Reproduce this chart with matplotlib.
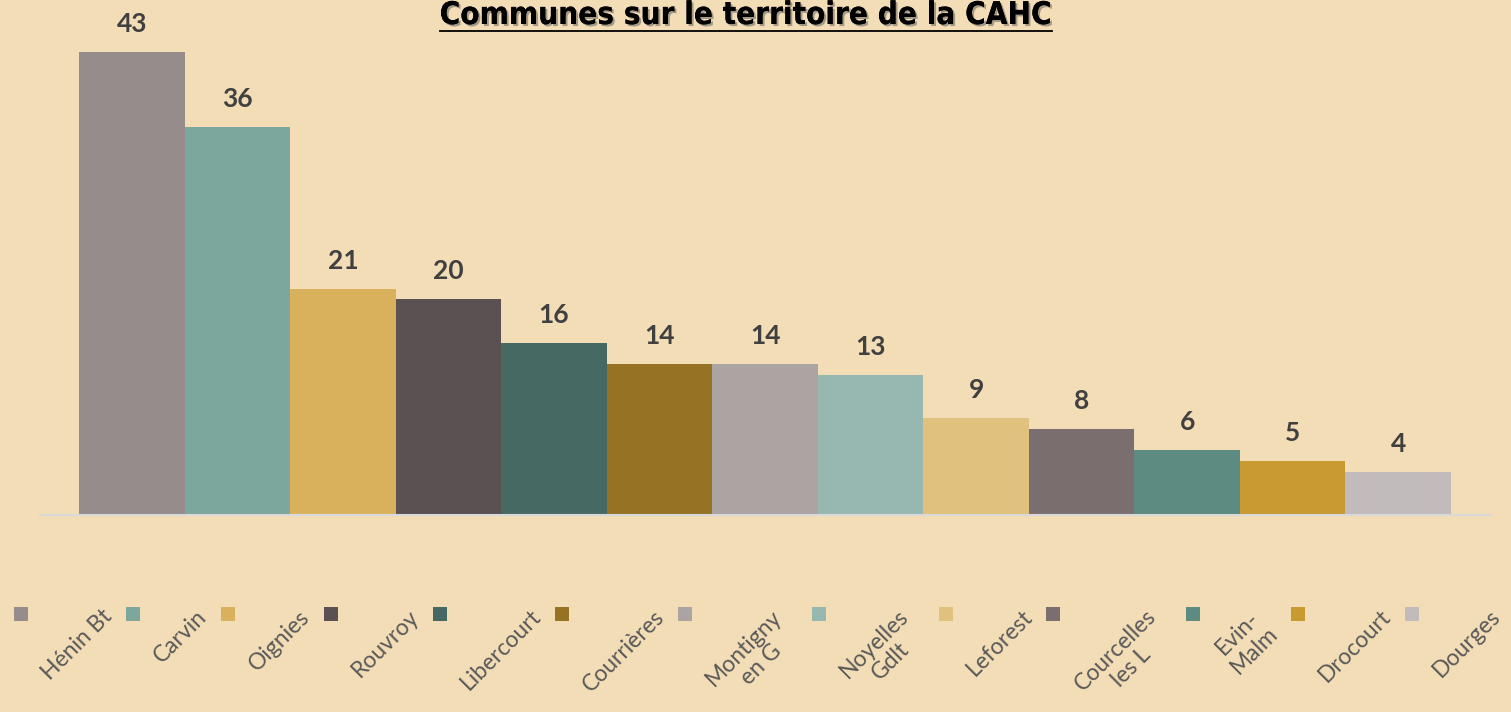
import matplotlib
matplotlib.use("Agg")
import matplotlib.pyplot as plt
import matplotlib.patheffects as pe
from matplotlib.patches import Rectangle
from matplotlib.lines import Line2D

communes = ["Hénin Bt", "Carvin", "Oignies", "Rouvroy", "Libercourt", "Courrières",
            "Montigny\nen G", "Noyelles\nGdlt", "Leforest", "Courcelles\nles L",
            "Evin-\nMalm", "Drocourt", "Dourges"]
valeurs = [43, 36, 21, 20, 16, 14, 14, 13, 9, 8, 6, 5, 4]
couleurs = ["#968C8C", "#7BA79D", "#D9B15D", "#5C5152", "#466963", "#967224", "#ACA3A3",
            "#96B8B1", "#E1C17E", "#7A6E6E", "#5D8B81", "#C89A31", "#C1BBBB"]

fond = "#F3DDB7"
W, H = 1511, 712

fig = plt.figure(figsize=(W / 100, H / 100), dpi=100, facecolor=fond)
ax = fig.add_axes([40 / W, 1 - 515 / H, 1450 / W, 485 / H])
ax.set_facecolor(fond)

x = list(range(len(valeurs)))
ax.bar(x, valeurs, width=1.0, color=couleurs)
ax.set_xlim(-0.87, len(valeurs) - 1 + 0.87)
ax.set_ylim(0, 45)
for s in ["top", "left", "right"]:
    ax.spines[s].set_visible(False)
ax.spines["bottom"].set_color("#D9D9D9")
ax.spines["bottom"].set_linewidth(1.5)
ax.set_xticks([])
ax.set_yticks([])

# etiquettes de valeurs
for i, v in zip(x, valeurs):
    ax.annotate(str(v), (i, v), xytext=(0, 28), textcoords="offset pixels",
                ha="center", va="center", fontsize=19, fontweight="bold",
                color="#404040", family="Lato")

# titre souligne avec ombre
titre = fig.text(746 / W, 1 - 1 / H, "Communes sur le territoire de la CAHC",
                 ha="center", va="top", fontsize=22.5, fontweight="bold",
                 fontstretch="condensed", family="DejaVu Sans", color="black",
                 path_effects=[pe.withSimplePatchShadow(offset=(1.5, -1.5),
                                                        shadow_rgbFace="#555555", alpha=0.5),
                               pe.Normal()])

fig.canvas.draw()
renderer = fig.canvas.get_renderer()
bb = titre.get_window_extent(renderer)
fig.add_artist(Line2D([bb.x0 / W, bb.x1 / W], [(bb.y0 - 1) / H, (bb.y0 - 1) / H],
                      transform=fig.transFigure, color="black", lw=1.3))

# legende manuelle, textes inclines
style = dict(fontsize=16.5, color="#595959", family="Lato")
pos = 14
for nom, c in zip(communes, couleurs):
    fig.add_artist(Rectangle((pos / W, 1 - 621 / H), 14 / W, 14 / H,
                             transform=fig.transFigure, color=c, lw=0))
    # largeur de la ligne la plus longue, une fois inclinee
    w1, h1 = 0, 0
    for ligne in nom.split("\n"):
        tmp = fig.text(0, 0, ligne, rotation=45, **style)
        w1 = max(w1, tmp.get_window_extent(renderer).width)
        tmp.set_rotation(0)
        h1 = max(h1, tmp.get_window_extent(renderer).height)
        tmp.remove()
    ax_x = pos + 24 + w1 - h1 * 0.707
    fig.text(ax_x / W, 1 - 606 / H, nom, rotation=45, rotation_mode="anchor",
             ha="right", va="top", multialignment="center", linespacing=1.15, **style)
    pos = pos + 24 + w1 + 10 + (16 if "\n" in nom else 0)

fig.savefig("out.png", dpi=100, facecolor=fond)
